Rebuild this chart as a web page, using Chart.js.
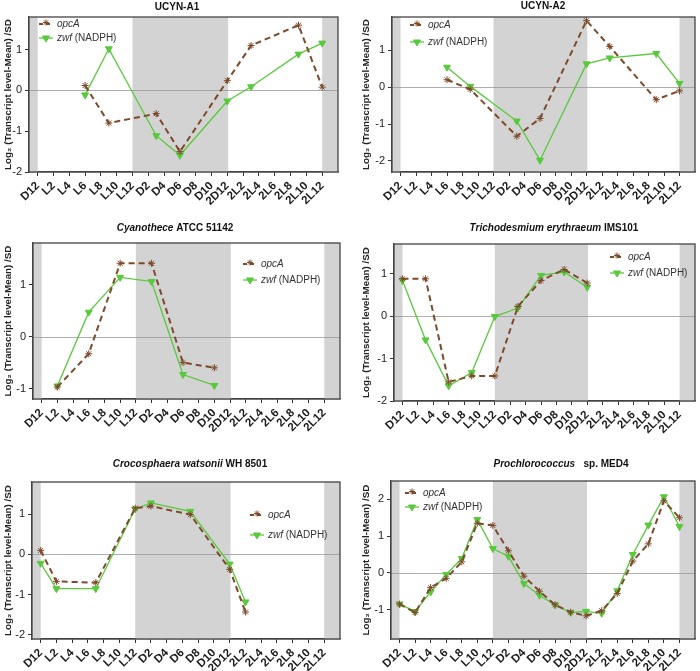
<!DOCTYPE html>
<html>
<head>
<meta charset="utf-8">
<script src="https://cdn.jsdelivr.net/npm/chart.js@4.4.1/dist/chart.umd.min.js"></script>
<style>
  body { margin: 0; background: #fff; }
  #wrap { position: relative; width: 700px; height: 671px; overflow: hidden; }
  canvas { position: absolute; }
</style>
</head>
<body>
<div id="wrap"></div>
<script>
// time axis: hours since first D12, labelled every 2 h
const TICK_HOURS = [0, 2, 4, 6, 8, 10, 12, 14, 16, 18, 20, 22, 24, 26, 28, 30, 32, 34, 36];
const TICK_LABELS = ['D12', 'L2', 'L4', 'L6', 'L8', 'L10', 'L12', 'D2', 'D4', 'D6', 'D8', 'D10',
  '2D12', '2L2', '2L4', '2L6', '2L8', '2L10', '2L12'];
// dark periods (gray bands)
const DARK = [[-5, 0], [12, 24.1], [36, 45]];

// UCYN-A1
const a1Hours = [6, 9, 15, 18, 24, 27, 33, 36];
const a1OpcA = [0.12, -0.8, -0.57, -1.5, 0.24, 1.1, 1.6, 0.08];
const a1Zwf = [-0.11, 1.02, -1.11, -1.59, -0.26, 0.09, 0.89, 1.16];

// UCYN-A2
const a2Hours = [6, 9, 15, 18, 24, 27, 33, 36];
const a2OpcA = [0.2, -0.06, -1.33, -0.85, 1.8, 1.1, -0.34, -0.1];
const a2Zwf = [0.54, 0.02, -0.92, -1.98, 0.63, 0.79, 0.91, 0.1];

// Cyanothece ATCC 51142
const cyanHours = [2, 6, 10, 14, 18, 22];
const cyanOpcA = [-0.97, -0.33, 1.41, 1.41, -0.5, -0.6];
const cyanZwf = [-0.95, 0.47, 1.14, 1.06, -0.73, -0.94];

// Trichodesmium erythraeum IMS101
const trichoHours = [0, 3, 6, 9, 12, 15, 18, 21, 24];
const trichoOpcA = [0.88, 0.88, -1.55, -1.41, -1.41, 0.23, 0.84, 1.1, 0.78];
const trichoZwf = [0.84, -0.56, -1.64, -1.33, -0.01, 0.19, 0.96, 1.04, 0.68];

// Crocosphaera watsonii WH 8501
const crocoHours = [0, 2, 7, 12, 14, 19, 24, 26];
const crocoOpcA = [0.1, -0.67, -0.7, 1.15, 1.2, 0.99, -0.37, -1.43];
const crocoZwf = [-0.22, -0.85, -0.85, 1.13, 1.28, 1.07, -0.24, -1.18];

// Prochlorococcus sp. MED4
const proHours = [0, 2, 4, 6, 8, 10, 12, 14, 16, 18, 20, 22, 24, 26, 28, 30, 32, 34, 36];
const proOpcA = [-0.85, -1.08, -0.4, -0.15, 0.3, 1.35, 1.29, 0.6, -0.09, -0.5, -0.87, -1.07,
  -1.17, -1.03, -0.56, 0.32, 0.79, 1.96, 1.5];
const proZwf = [-0.85, -1.05, -0.52, -0.04, 0.39, 1.45, 0.66, 0.45, -0.29, -0.61, -0.87, -1.08,
  -1.05, -1.1, -0.49, 0.5, 1.3, 2.07, 1.26];

const BROWN = '#7d4a2b';
const GREEN = '#58c93c';
const FONT = "'Liberation Sans', Arial, sans-serif";

// canvases of row 2 start 12px higher so their titles are not clipped
const panels = [
  { x: 0, y: 0, w: 350, h: 225, area: [29, 17, 338, 172], yRange: [-2, 1.8], yTicks: [-2, -1, 0, 1],
    title: [['UCYN-A1', false]], titleAt: [177, 7], legend: [39, 24, 14],
    hours: a1Hours, opcA: a1OpcA, zwf: a1Zwf, padLeft: 0 },
  { x: 350, y: 0, w: 350, h: 225, area: [42, 17, 348, 172], yRange: [-2.3, 1.9], yTicks: [-2, -1, 0, 1],
    title: [['UCYN-A2', false]], titleAt: [193, 6], legend: [60, 25, 17],
    hours: a2Hours, opcA: a2OpcA, zwf: a2Zwf, padLeft: 8 },
  { x: 0, y: 213, w: 350, h: 237, area: [33, 30, 340, 186], yRange: [-1.2, 1.8], yTicks: [-1, 0, 1],
    title: [['Cyanothece', true], [' ATCC 51142', false]], titleAt: [175, 15], legend: [243, 51, 16],
    hours: cyanHours, opcA: cyanOpcA, zwf: cyanZwf, padLeft: 0 },
  { x: 350, y: 213, w: 350, h: 237, area: [44, 31, 348, 188], yRange: [-2, 1.7], yTicks: [-2, -1, 0, 1],
    title: [['Trichodesmium erythraeum', true], [' IMS101', false]], titleAt: [204, 15], legend: [260, 44, 16],
    hours: trichoHours, opcA: trichoOpcA, zwf: trichoZwf, padLeft: 8 },
  { x: 0, y: 450, w: 350, h: 221, area: [32, 32, 340, 189], yRange: [-2.1, 1.8], yTicks: [-2, -1, 0, 1],
    title: [['Crocosphaera watsonii', true], [' WH 8501', false]], titleAt: [190, 14], legend: [250, 65, 20],
    hours: crocoHours, opcA: crocoOpcA, zwf: crocoZwf, padLeft: 0 },
  { x: 350, y: 450, w: 350, h: 221, area: [41, 31, 348, 189], yRange: [-1.8, 2.5], yTicks: [-1, 0, 1, 2],
    title: [['Prochlorococcus', true], ['   sp. MED4', false]], titleAt: [211, 14], legend: [55, 43, 14],
    hours: proHours, opcA: proOpcA, zwf: proZwf, padLeft: 8 },
];

function drawSegments(ctx, segs, x, y, size, align) {
  const fonts = segs.map(s => (s[1] ? 'italic ' : '') + (s[2] ? 'bold ' : '') + size + 'px ' + FONT);
  let total = 0;
  segs.forEach((s, i) => { ctx.font = fonts[i]; total += ctx.measureText(s[0]).width; });
  let cx = align === 'center' ? x - total / 2 : x;
  ctx.textBaseline = 'middle';
  ctx.textAlign = 'left';
  segs.forEach((s, i) => {
    ctx.font = fonts[i];
    ctx.fillText(s[0], cx, y);
    cx += ctx.measureText(s[0]).width;
  });
}

const decor = {
  id: 'decor',
  beforeDatasetsDraw(chart, args, opts) {
    const { ctx, chartArea: a, scales: { x, y } } = chart;
    ctx.save();
    ctx.fillStyle = '#d3d3d3';
    DARK.forEach(([s, e]) => {
      const x0 = Math.max(a.left, x.getPixelForValue(s));
      const x1 = Math.min(a.right, x.getPixelForValue(e));
      if (x1 > x0) ctx.fillRect(x0, a.top, x1 - x0, a.bottom - a.top);
    });
    ctx.strokeStyle = '#999';
    ctx.lineWidth = 0.8;
    const y0 = Math.round(y.getPixelForValue(0)) + 0.5;
    ctx.beginPath();
    ctx.moveTo(a.left, y0);
    ctx.lineTo(a.right, y0);
    ctx.stroke();
    ctx.restore();
  },
  afterDatasetsDraw(chart, args, opts) {
    const { ctx, chartArea: a } = chart;
    const p = opts.panel;
    ctx.save();
    ctx.strokeStyle = '#444';
    ctx.lineWidth = 1.3;
    ctx.strokeRect(a.left, a.top, a.right - a.left, a.bottom - a.top);

    // title
    ctx.fillStyle = '#111';
    drawSegments(ctx, p.title.map(s => [s[0], s[1], true]), p.titleAt[0], p.titleAt[1], 10, 'center');

    // legend
    const [lx, ly, dy] = p.legend;
    ctx.lineWidth = 2;
    ctx.strokeStyle = BROWN;
    ctx.setLineDash([4, 3]);
    ctx.beginPath(); ctx.moveTo(lx, ly); ctx.lineTo(lx + 14, ly); ctx.stroke();
    ctx.setLineDash([]);
    ctx.lineWidth = 1;
    Chart.helpers.drawPoint(ctx, { pointStyle: 'star', radius: 3, borderWidth: 1 }, lx + 7, ly - 1.5);
    ctx.strokeStyle = GREEN;
    ctx.fillStyle = GREEN;
    ctx.lineWidth = 1.3;
    ctx.beginPath(); ctx.moveTo(lx, ly + dy); ctx.lineTo(lx + 14, ly + dy); ctx.stroke();
    ctx.lineWidth = 1;
    Chart.helpers.drawPoint(ctx, { pointStyle: 'triangle', rotation: 180, radius: 4, borderWidth: 1 }, lx + 7, ly + dy);
    ctx.fillStyle = '#333';
    drawSegments(ctx, [['opcA', true]], lx + 18, ly, 10, 'left');
    drawSegments(ctx, [['zwf', true], [' (NADPH)', false]], lx + 18, ly + dy, 10, 'left');
    ctx.restore();
  }
};

const wrap = document.getElementById('wrap');
panels.forEach(p => {
  const cv = document.createElement('canvas');
  cv.width = p.w; cv.height = p.h;
  cv.style.left = p.x + 'px'; cv.style.top = p.y + 'px';
  wrap.appendChild(cv);
  const [left, top, right, bottom] = p.area;

  new Chart(cv, {
    type: 'line',
    data: {
      datasets: [
        {
          label: 'opcA',
          data: p.hours.map((h, i) => ({ x: h, y: p.opcA[i] })),
          borderColor: BROWN, backgroundColor: BROWN,
          borderWidth: 2, borderDash: [6, 4],
          pointStyle: 'star', pointRadius: 3.5, pointBorderWidth: 1,
          pointBorderColor: BROWN, tension: 0
        },
        {
          label: 'zwf (NADPH)',
          data: p.hours.map((h, i) => ({ x: h, y: p.zwf[i] })),
          borderColor: GREEN, backgroundColor: GREEN,
          borderWidth: 1.3,
          pointStyle: 'triangle', rotation: 180, pointRadius: 4, pointBorderWidth: 1,
          tension: 0
        }
      ]
    },
    options: {
      responsive: false,
      animation: false,
      devicePixelRatio: 1,
      layout: { padding: { left: p.padLeft, top: top, right: p.w - right, bottom: 0 } },
      plugins: { legend: { display: false }, tooltip: { enabled: false }, decor: { panel: p } },
      scales: {
        x: {
          type: 'linear', min: -1.1, max: 38,
          afterBuildTicks: s => { s.ticks = TICK_HOURS.map(v => ({ value: v })); },
          afterFit: s => { s.height = p.h - bottom; },
          grid: { drawOnChartArea: false, color: '#333', tickLength: 4 },
          border: { color: '#444', width: 1.3 },
          ticks: {
            autoSkip: false, maxRotation: 45, minRotation: 45, padding: 3,
            color: '#1a1a1a', font: { family: FONT, size: 11.5, weight: 'bold' },
            callback: (v, i) => TICK_LABELS[i]
          }
        },
        y: {
          min: p.yRange[0], max: p.yRange[1],
          afterBuildTicks: s => { s.ticks = p.yTicks.map(v => ({ value: v })); },
          afterFit: s => { s.width = left - p.padLeft; },
          grid: { drawOnChartArea: false, color: '#333', tickLength: 4 },
          border: { color: '#444', width: 1.3 },
          ticks: { padding: 3, color: '#222', font: { family: FONT, size: 11 } },
          title: {
            display: true, text: 'Log\u2082 (Transcript level-Mean) /SD',
            color: '#222', font: { family: FONT, size: 9.8, weight: 'bold' },
            padding: { top: 2, bottom: 0 }
          }
        }
      }
    },
    plugins: [decor]
  });
});
</script>
</body>
</html>
